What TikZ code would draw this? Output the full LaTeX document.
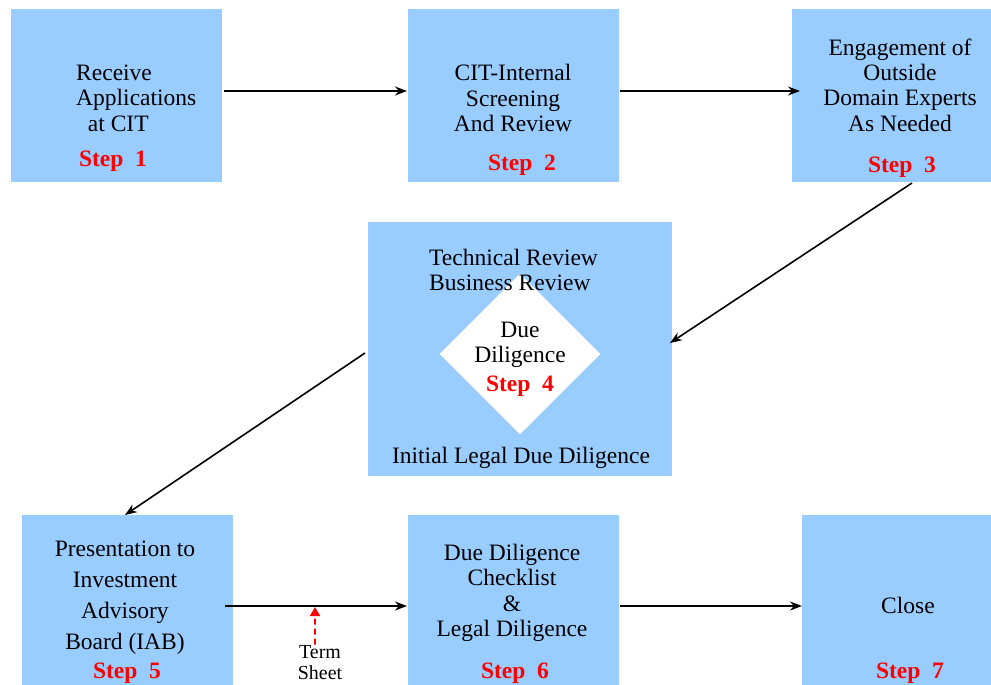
\documentclass[tikz,border=0pt]{standalone}
\usepackage{fontspec}
\setmainfont{Liberation Serif}
\usetikzlibrary{shapes.geometric,arrows.meta,calc}
\definecolor{boxblue}{HTML}{99CCFF}
\definecolor{stepred}{HTML}{FF0000}
\tikzset{
  box/.style={fill=boxblue,draw=none,inner sep=0pt,outer sep=0pt},
  txt/.style={inner sep=0pt,font=\fontsize{23.6}{25.5}\selectfont,align=center},
  steplabel/.style={inner sep=0pt,font=\fontsize{23.6}{25}\selectfont\bfseries,text=stepred},
  arr/.style={line width=1.6bp,-{Stealth[length=12bp,width=9bp]}},
  tsarr/.style={line width=1.6bp,draw=stepred,dash pattern=on 6bp off 4bp,-{Triangle[length=9bp,width=10bp,fill=stepred]}}
}
\begin{document}
\begin{tikzpicture}[x=1bp,y=-1bp]
\useasboundingbox (0,0) rectangle (991,685);
% boxes
\node[box,minimum width=211bp,minimum height=173bp] (b1) at (116.5,95.5) {};
\node[box,minimum width=211bp,minimum height=173bp] (b2) at (513.5,95.5) {};
\node[box,minimum width=199bp,minimum height=173bp] (b3) at (891.5,95.5) {};
\node[box,minimum width=304bp,minimum height=254bp] (b4) at (520,349) {};
\node[box,minimum width=211bp,minimum height=170bp] (b5) at (127.5,600) {};
\node[box,minimum width=211bp,minimum height=170bp] (b6) at (513.5,600) {};
\node[box,minimum width=189bp,minimum height=170bp] (b7) at (896.5,600) {};
\node[diamond,fill=white,draw=none,inner sep=0pt,minimum width=161bp,minimum height=161bp] (dia) at (520,354) {};
% texts
\node[txt,align=left,anchor=west] (t1) at (76,98) {Receive\\Applications\\\ \ at CIT};
\node[steplabel] (s1) at (113,161) {Step\ \ 1};
\node[txt] (t2) at (513,98) {CIT-Internal\\Screening\\And Review};
\node[steplabel] (s2) at (522,165) {Step\ \ 2};
\node[txt] (t3) at (900,85) {Engagement of\\Outside\\Domain Experts\\As Needed};
\node[steplabel] (s3) at (902,167) {Step\ \ 3};
\node[txt,align=left,anchor=west] (t4a) at (429,270) {Technical Review\\Business Review};
\node[txt] (t4b) at (520,359) {Due\\Diligence\\[3bp]\textcolor{stepred}{\bfseries Step\ \ 4}};
\node[txt] (t4c) at (521,458) {Initial Legal Due Diligence};
\node[txt,font=\fontsize{23.6}{31}\selectfont] (t5) at (125,598) {Presentation to\\Investment\\Advisory\\Board (IAB)};
\node[steplabel] (s5) at (127,673) {Step\ \ 5};
\node[txt] (t6) at (512,593) {Due Diligence\\Checklist\\\&\\Legal Diligence};
\node[steplabel] (s6) at (515,673) {Step\ \ 6};
\node[txt] (t7) at (908,605) {Close};
\node[steplabel] (s7) at (910,673) {Step\ \ 7};
\node[txt,font=\fontsize{20}{21}\selectfont] (ts) at (320,663) {Term\\Sheet};
% connectors
\draw[arr] ([xshift=2bp,yshift=4.5bp]b1.east) -- ([xshift=-1bp,yshift=4.5bp]b2.west);
\draw[arr] ([xshift=1bp,yshift=4.5bp]b2.east) -- ([xshift=8bp,yshift=4.5bp]b3.west);
\draw[arr] ([xshift=20.5bp,yshift=-1bp]b3.south) -- ([xshift=-2bp,yshift=6bp]b4.east);
\draw[arr] ([xshift=-3bp,yshift=-4bp]b4.west) -- ([xshift=-2.5bp]b5.north);
\draw[arr] ([xshift=-8bp,yshift=-6bp]b5.east) coordinate (c5) -- ([xshift=-1bp,yshift=-6bp]b6.west) coordinate (c6);
\draw[arr] ([xshift=1bp,yshift=-6bp]b6.east) -- ([xshift=0bp,yshift=-6bp]b7.west);
\coordinate (tstip) at ($(c5)!0.4945!(c6)$);
\draw[tsarr] ([xshift=-5bp,yshift=1bp]ts.north) -- ([yshift=-1bp]tstip);
\end{tikzpicture}
\end{document}
